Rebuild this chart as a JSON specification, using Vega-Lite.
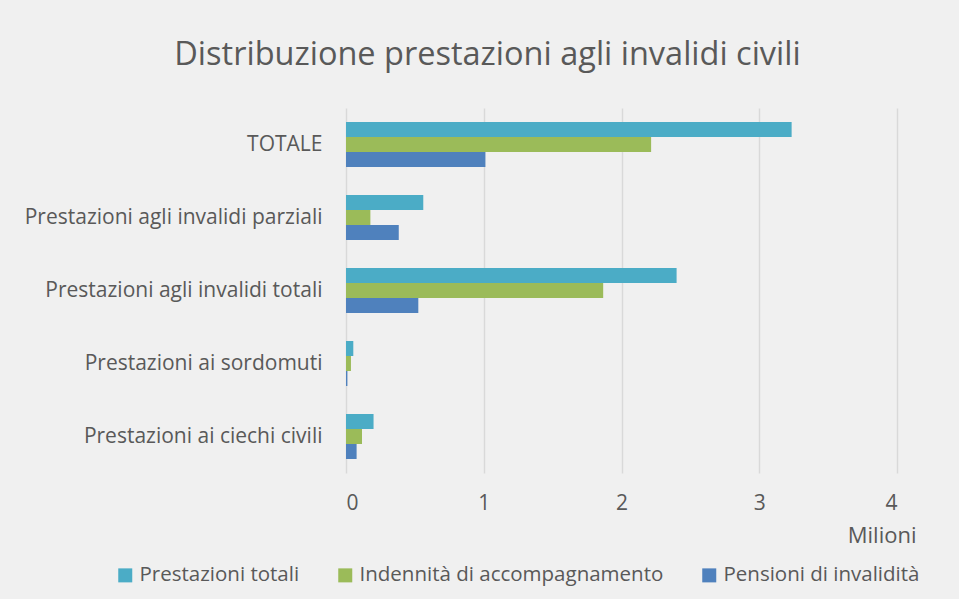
{
  "$schema": "https://vega.github.io/schema/vega-lite/v6.json",
  "autosize": {"type": "none"},
  "width": 551,
  "height": 365,
  "padding": {"left": 346, "top": 108, "right": 62, "bottom": 126},
  "background": "#f0f0f0",
  "title": {
    "text": "Distribuzione prestazioni agli invalidi civili",
    "anchor": "middle",
    "dx": -134,
    "offset": 37,
    "fontSize": 32.5,
    "font": "Open Sans",
    "fontWeight": "normal",
    "color": "#595959"
  },
  "config": {
    "view": {"stroke": null},
    "font": "Open Sans"
  },
  "data": {
    "values": [
      {"categoria": "TOTALE", "serie": "Prestazioni totali", "valore": 3.235},
      {"categoria": "TOTALE", "serie": "Indennità di accompagnamento", "valore": 2.215},
      {"categoria": "TOTALE", "serie": "Pensioni di invalidità", "valore": 1.012},
      {"categoria": "Prestazioni agli invalidi parziali", "serie": "Prestazioni totali", "valore": 0.561},
      {"categoria": "Prestazioni agli invalidi parziali", "serie": "Indennità di accompagnamento", "valore": 0.177},
      {"categoria": "Prestazioni agli invalidi parziali", "serie": "Pensioni di invalidità", "valore": 0.383},
      {"categoria": "Prestazioni agli invalidi totali", "serie": "Prestazioni totali", "valore": 2.4},
      {"categoria": "Prestazioni agli invalidi totali", "serie": "Indennità di accompagnamento", "valore": 1.867},
      {"categoria": "Prestazioni agli invalidi totali", "serie": "Pensioni di invalidità", "valore": 0.525},
      {"categoria": "Prestazioni ai sordomuti", "serie": "Prestazioni totali", "valore": 0.053},
      {"categoria": "Prestazioni ai sordomuti", "serie": "Indennità di accompagnamento", "valore": 0.036},
      {"categoria": "Prestazioni ai sordomuti", "serie": "Pensioni di invalidità", "valore": 0.01},
      {"categoria": "Prestazioni ai ciechi civili", "serie": "Prestazioni totali", "valore": 0.2},
      {"categoria": "Prestazioni ai ciechi civili", "serie": "Indennità di accompagnamento", "valore": 0.116},
      {"categoria": "Prestazioni ai ciechi civili", "serie": "Pensioni di invalidità", "valore": 0.077}
    ]
  },
  "mark": {"type": "bar"},
  "encoding": {
    "y": {
      "field": "categoria",
      "type": "nominal",
      "sort": ["TOTALE", "Prestazioni agli invalidi parziali", "Prestazioni agli invalidi totali", "Prestazioni ai sordomuti", "Prestazioni ai ciechi civili"],
      "scale": {"paddingInner": 0.384, "paddingOuter": 0.192},
      "axis": {
        "title": null,
        "domain": false,
        "ticks": false,
        "grid": false,
        "labelPadding": 24,
        "labelFontSize": 21,
        "labelLimit": 0,
        "labelColor": "#595959",
        "labelFont": "Open Sans"
      }
    },
    "yOffset": {
      "field": "serie",
      "type": "nominal",
      "sort": ["Prestazioni totali", "Indennità di accompagnamento", "Pensioni di invalidità"],
      "scale": {"paddingInner": 0, "paddingOuter": 0}
    },
    "x": {
      "field": "valore",
      "type": "quantitative",
      "scale": {"domain": [0, 4], "nice": false},
      "axis": {
        "values": [0, 1, 2, 3, 4],
        "title": "Milioni",
        "titleAnchor": "end",
        "titleAlign": "right",
        "titleBaseline": "middle",
        "titleX": 570,
        "titleY": 62,
        "titleFontSize": 22,
        "titleFontWeight": "normal",
        "titleColor": "#595959",
        "domain": false,
        "ticks": false,
        "grid": true,
        "gridColor": "#d9d9d9",
        "gridWidth": 1.5,
        "labelPadding": 19,
        "labelFontSize": 21,
        "labelColor": "#595959",
        "labelFont": "Open Sans"
      }
    },
    "color": {
      "field": "serie",
      "type": "nominal",
      "sort": ["Prestazioni totali", "Indennità di accompagnamento", "Pensioni di invalidità"],
      "scale": {"range": ["#4bacc6", "#9bbb59", "#4f81bd"]},
      "legend": {
        "title": null,
        "orient": "none",
        "direction": "horizontal",
        "legendX": -231,
        "legendY": 457,
        "symbolType": "square",
        "symbolSize": 196,
        "symbolStrokeWidth": 0,
        "labelFontSize": 20.5,
        "labelLimit": 0,
        "labelColor": "#595959",
        "labelFont": "Open Sans",
        "labelOffset": 4,
        "columnPadding": 35
      }
    }
  }
}
